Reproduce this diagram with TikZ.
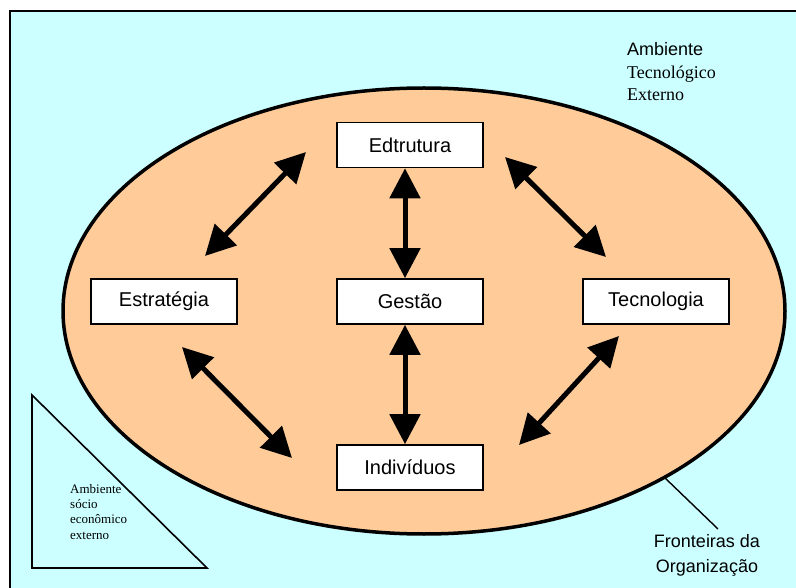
\documentclass[tikz,border=0pt]{standalone}
\usepackage{fontspec}
\setmainfont{Liberation Serif}
\setsansfont{Liberation Sans}
\usetikzlibrary{arrows.meta}
\definecolor{envcyan}{HTML}{CCFFFF}
\definecolor{orgpeach}{HTML}{FFCC99}
\tikzset{
  box/.style={draw=black, line width=1.6pt, fill=white, minimum width=146pt, minimum height=45pt, inner sep=0pt,
    font=\sffamily\fontsize{20}{22}\selectfont},
  bigarrow/.style={line width=5pt, {Triangle[length=30pt,width=30pt]}-{Triangle[length=30pt,width=30pt]}},
  sanslabel/.style={font=\sffamily\fontsize{18}{25}\selectfont, inner sep=0pt},
  seriflabel/.style={font=\rmfamily\fontsize{18}{23}\selectfont, inner sep=0pt},
  smalllabel/.style={font=\rmfamily\fontsize{13}{15.3}\selectfont, inner sep=0pt, align=left}
}
\begin{document}
\begin{tikzpicture}[x=1pt,y=-1pt]
\useasboundingbox (0,0) rectangle (796,588);
\clip (0,0) rectangle (796,588);
% outer environment
\draw[line width=2pt, fill=envcyan] (9.5,11) rectangle (820,620);
% organization ellipse
\draw[line width=3.5pt, fill=orgpeach] (424,311) ellipse [x radius=361pt, y radius=223pt];
% socio-economic triangle
\draw[line width=1.6pt, fill=envcyan] (32,395) -- (32,568) -- (207,568) -- cycle;
\node[smalllabel, anchor=north west] (socio) at (70,484) {Ambiente\\sócio\\econômico\\externo};
% boxes
\node[box] (edt) at (410,145) {Edtrutura};
\node[box] (est) at (164,301.5) {Estratégia};
\node[box] (ges) at (410,301.5) {Gestão};
\node[box] (tec) at (656,301.5) {Tecnologia};
\node[box] (ind) at (410,467.5) {Indivíduos};
% arrows
\draw[bigarrow] (edt.south -| 405,0) -- (ges.north -| 405,0);
\draw[bigarrow] (ges.south -| 405,0) -- (ind.north -| 405,0);
\coordinate (ul1) at (205,256);
\coordinate (ul2) at (306,152);
\coordinate (ur1) at (505,157);
\coordinate (ur2) at (606,257);
\coordinate (ll1) at (182,347);
\coordinate (ll2) at (292,458);
\coordinate (lr1) at (519,445);
\coordinate (lr2) at (619,336);
\draw[bigarrow] (ul1) -- (ul2);
\draw[bigarrow] (ur1) -- (ur2);
\draw[bigarrow] (ll1) -- (ll2);
\draw[bigarrow] (lr1) -- (lr2);
% labels
\node[sanslabel, anchor=north west] (amb) at (627,42) {Ambiente};
\node[seriflabel, anchor=north west] (tecn) at (627,66) {Tecnológico};
\node[seriflabel, anchor=north west] (ext) at (627,89) {Externo};
\node[sanslabel, align=center, anchor=north] (fron) at (707,534) {Fronteiras da\\Organização};
\coordinate (pt) at (664,477);
\coordinate (ptend) at (718,529);
\draw[line width=1.4pt] (pt) -- (ptend);
\end{tikzpicture}
\end{document}
